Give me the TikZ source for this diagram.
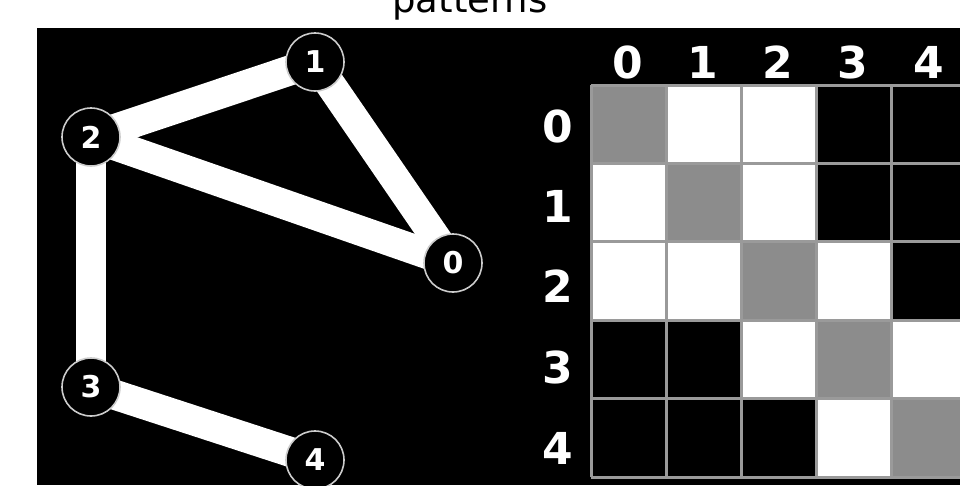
\documentclass[tikz,border=0pt]{standalone}
\usepackage{fontspec}
\setmainfont{DejaVu Sans}
\usetikzlibrary{backgrounds}
\definecolor{cg}{HTML}{8C8C8C}
\definecolor{cw}{HTML}{FFFFFF}
\definecolor{cb}{HTML}{000000}
\definecolor{gridgray}{HTML}{9A9A9A}
\tikzset{
  vertex/.style={circle, fill=black, draw=white!80!black, line width=1.6pt,
    minimum size=58pt, inner sep=0pt, text=white,
    font=\fontsize{30}{30}\selectfont\bfseries},
  edge/.style={draw=white, line width=30pt},
  lbl/.style={text=white, inner sep=0pt, font=\fontsize{44}{44}\selectfont\bfseries},
  gridline/.style={draw=gridgray, line width=3pt}
}
\begin{document}
\begin{tikzpicture}[x=1pt,y=-1pt]
\useasboundingbox (0,0) rectangle (960,485);
\clip (0,0) rectangle (960,485);
\node[anchor=base, inner sep=0pt, font=\fontsize{37}{37}\selectfont] (title) at (470,12) {patterns};
% graph
\node[vertex] (n0) at (453,263) {0};
\node[vertex] (n1) at (315,62) {1};
\node[vertex] (n2) at (91,137) {2};
\node[vertex] (n3) at (91,387) {3};
\node[vertex] (n4) at (315,460) {4};
\begin{scope}[on background layer]
  \fill[black] (37,28) rectangle (960,485);
  \draw[edge] (n2.center) -- (n1.center);
  \draw[edge] (n1.center) -- (n0.center);
  \draw[edge] (n2.center) -- (n0.center);
  \draw[edge] (n2.center) -- (n3.center);
  \draw[edge] (n3.center) -- (n4.center);
\end{scope}
% matrix cells
\foreach [count=\r from 0] \row in {{g,w,w,b,b},{w,g,w,b,b},{w,w,g,w,b},{b,b,w,g,w},{b,b,b,w,g}}{
  \foreach [count=\c from 0] \k in \row {
    \fill[fill=c\k] ({591+75*\c},{85+78.4*\r}) rectangle ++(75,78.4);
  }
}
\foreach \i in {0,...,5}{
  \draw[gridline] ({591+75*\i},85) -- ({591+75*\i},477);
  \draw[gridline] (591,{85+78.4*\i}) -- (966,{85+78.4*\i});
}
% labels
\foreach \i/\x in {0/628,1/703,2/778,3/853,4/929}{
  \node[lbl] (col\i) at (\x,62) {\i};
}
\foreach \i/\y in {0/126,1/206,2/286,3/367,4/448}{
  \node[lbl] (row\i) at (558,\y) {\i};
}
\end{tikzpicture}
\end{document}
